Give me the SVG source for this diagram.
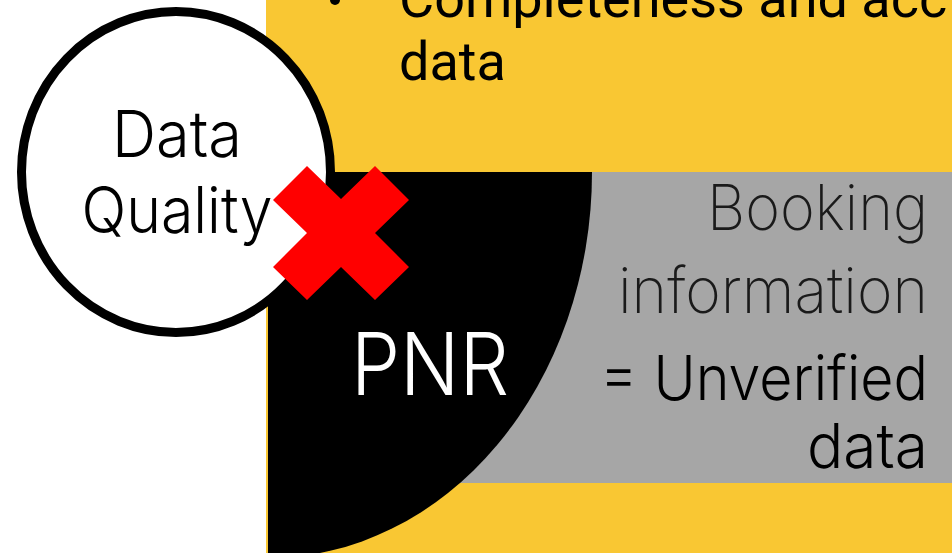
<svg xmlns="http://www.w3.org/2000/svg" width="952" height="553" viewBox="0 0 952 553">
<style>
.sans{font-family:Inter,"Noto Sans","Liberation Sans",sans-serif}
.top{font-family:Roboto,"Liberation Sans",sans-serif;font-size:54px;fill:#000}
.r{text-anchor:end}
.m{text-anchor:middle}
</style>
<rect x="0" y="0" width="952" height="553" fill="#ffffff"/>
<g id="background">
<rect x="266" y="0" width="686" height="553" fill="#F9C733"/>
<circle cx="335" cy="0" r="5" fill="#000"/>
<text class="top" x="399" y="17">Completeness and acc</text>
<text class="top" x="399" y="80">data</text>
</g>
<g id="booking">
<rect x="400" y="172" width="552" height="311" fill="#A6A6A6"/>
<text class="sans r" x="928" y="230" font-size="63" font-weight="200" fill="#1a1a1a" textLength="221" lengthAdjust="spacingAndGlyphs">Booking</text>
<text class="sans r" x="928" y="313" font-size="63" font-weight="200" fill="#1a1a1a" textLength="310" lengthAdjust="spacingAndGlyphs">information</text>
<text class="sans r" x="928" y="400" font-size="62" font-weight="300" fill="#000" textLength="328" lengthAdjust="spacingAndGlyphs">= Unverified</text>
<text class="sans r" x="928" y="468" font-size="62" font-weight="300" fill="#000" textLength="121" lengthAdjust="spacingAndGlyphs">data</text>
</g>
<g id="pnr">
<path d="M268,172 H592 A324,386 0 0 1 268,558 Z" fill="#000"/>
<text class="sans m" x="430" y="395" font-size="87" font-weight="300" fill="#fff" textLength="158" lengthAdjust="spacingAndGlyphs">PNR</text>
</g>
<g id="data-quality">
<ellipse cx="176" cy="172" rx="154.5" ry="160.5" fill="#fff" stroke="#000" stroke-width="9"/>
<text class="sans m" x="177" y="157" font-size="64" font-weight="300" fill="#000" textLength="130" lengthAdjust="spacingAndGlyphs">Data</text>
<text class="sans m" x="177" y="233" font-size="64" font-weight="300" fill="#000" textLength="191" lengthAdjust="spacingAndGlyphs">Quality</text>
</g>
<g id="cross">
<polygon points="341,199 375,166 409,200 375,233 409,267 375,300 341,267 307,300 273,267 307,233 273,200 307,166" fill="#FF0000"/>
</g>
</svg>
